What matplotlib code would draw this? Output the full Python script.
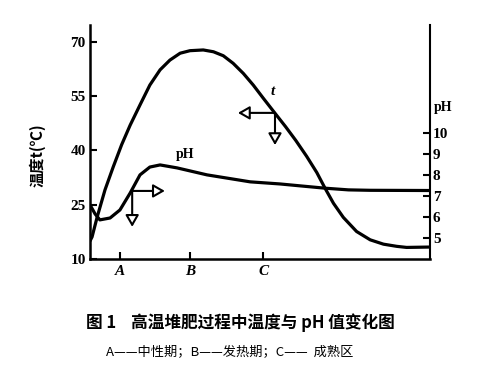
import numpy as np
import matplotlib.pyplot as plt

plt.rcParams['font.family'] = ['Liberation Serif', 'Noto Sans CJK SC', 'DejaVu Sans']

# composting time (arbitrary units, no numeric scale on the original)
t_time = [0, 0.6, 2.1, 4.4, 6.8, 9.3, 11.8, 14.7, 17.6, 20.6, 23.5, 26.5, 29.4,
          33.3, 36.3, 39.2, 42.1, 45.1, 48.0, 51.0, 54.4, 57.5, 60.5, 63.7, 66.7,
          69.1, 71.6, 74.5, 78.4, 82.4, 86.3, 90.2, 93.1, 99.7]
temp = [15.0, 16.1, 21.6, 29.1, 35.4, 41.6, 47.0, 52.6, 58.1, 62.3, 65.0, 66.9, 67.6,
        67.8, 67.3, 66.2, 64.1, 61.3, 58.1, 54.4, 50.3, 46.6, 42.8, 38.4, 33.9,
        29.6, 25.4, 21.5, 17.6, 15.3, 14.1, 13.5, 13.2, 13.3]

ph_time = [0, 1.5, 2.9, 5.9, 8.8, 11.8, 14.7, 17.6, 20.6, 25.6, 34.4, 47.1, 55.9,
           61.8, 69.1, 76.0, 82.4, 99.7]
ph = [6.59, 6.16, 5.88, 5.97, 6.35, 7.15, 8.01, 8.38, 8.48, 8.34, 8.01, 7.68, 7.58,
      7.49, 7.38, 7.30, 7.28, 7.27]

temp_ticks = [10, 25, 40, 55, 70]
ph_ticks = [5, 6, 7, 8, 9, 10]
phase_pos = [8.8, 29.4, 50.9]
phase_labels = ['A', 'B', 'C']

fig = plt.figure(figsize=(4.93, 3.71), dpi=100)
ax = fig.add_axes([0.1826, 0.3019, 0.6897, 0.6307])
ax2 = ax.twinx()

lw = 2.3
ax.plot(t_time, temp, color='black', lw=lw, solid_capstyle='round', solid_joinstyle='round')
ax2.plot(ph_time, ph, color='black', lw=lw, solid_capstyle='round', solid_joinstyle='round')

ax.set_xlim(0, 100)
ax.set_ylim(10, 74.7)
ax2.set_ylim(4.03, 15.1)

for s in ['top', 'right']:
    ax.spines[s].set_visible(False)
for s in ['top', 'left', 'bottom']:
    ax2.spines[s].set_visible(False)
ax.spines['left'].set_linewidth(1.8)
ax.spines['bottom'].set_linewidth(1.8)
ax2.spines['right'].set_linewidth(1.5)

ax.set_yticks(temp_ticks)
ax.set_yticklabels([str(v) for v in temp_ticks], fontsize=11, fontweight='bold')
ax.tick_params(axis='y', direction='in', length=5, width=1.5, pad=3)
ax.set_xticks(phase_pos)
ax.set_xticklabels(phase_labels, fontsize=11, fontstyle='italic', fontweight='bold')
ax.tick_params(axis='x', direction='in', length=5, width=1.5, pad=4)

ax2.set_yticks(ph_ticks)
ax2.set_yticklabels([str(v) for v in ph_ticks], fontsize=11, fontweight='bold')
ax2.tick_params(axis='y', direction='in', length=5, width=1.5, pad=2)
ax2.text(1.012, 11.2, 'pH', transform=ax2.get_yaxis_transform(),
         fontsize=10, fontweight='bold', va='center', ha='left')

ax.set_ylabel('温度t(℃)', fontsize=11, fontweight='bold',
              family=['Noto Sans CJK SC', 'DejaVu Sans'])
ax.yaxis.set_label_coords(-0.132, 0.444)

# direction arrows: pH curve -> right axis, temperature curve -> left axis
ap = dict(arrowstyle='-|>,head_length=0.7,head_width=0.4', color='black',
          lw=1.5, fc='white', shrinkA=0, shrinkB=0)
ax2.annotate('', xy=(22, 7.25), xytext=(12.4, 7.25), arrowprops=ap)
ax2.annotate('', xy=(12.4, 5.55), xytext=(12.4, 7.25), arrowprops=ap)
ax.annotate('', xy=(43.5, 50.4), xytext=(54.4, 50.4), arrowprops=ap)
ax.annotate('', xy=(54.4, 41.5), xytext=(54.4, 50.4), arrowprops=ap)

ax.text(28, 38.8, 'pH', fontsize=10, fontweight='bold', ha='center', va='center')
ax.text(53.8, 56.4, 't', fontsize=11, fontstyle='italic', fontweight='bold',
        ha='center', va='center')

cjk = ['Noto Sans CJK SC', 'DejaVu Sans']
fig.text(0.488, 0.129, '图 1    高温堆肥过程中温度与 pH 值变化图', fontsize=12,
         fontweight='bold', ha='center', va='center', family=cjk)
fig.text(0.4665, 0.051, 'A——中性期；B——发热期；C——  成熟区', fontsize=9.5,
         ha='center', va='center', family=cjk)

fig.savefig('out.png', dpi=100)
